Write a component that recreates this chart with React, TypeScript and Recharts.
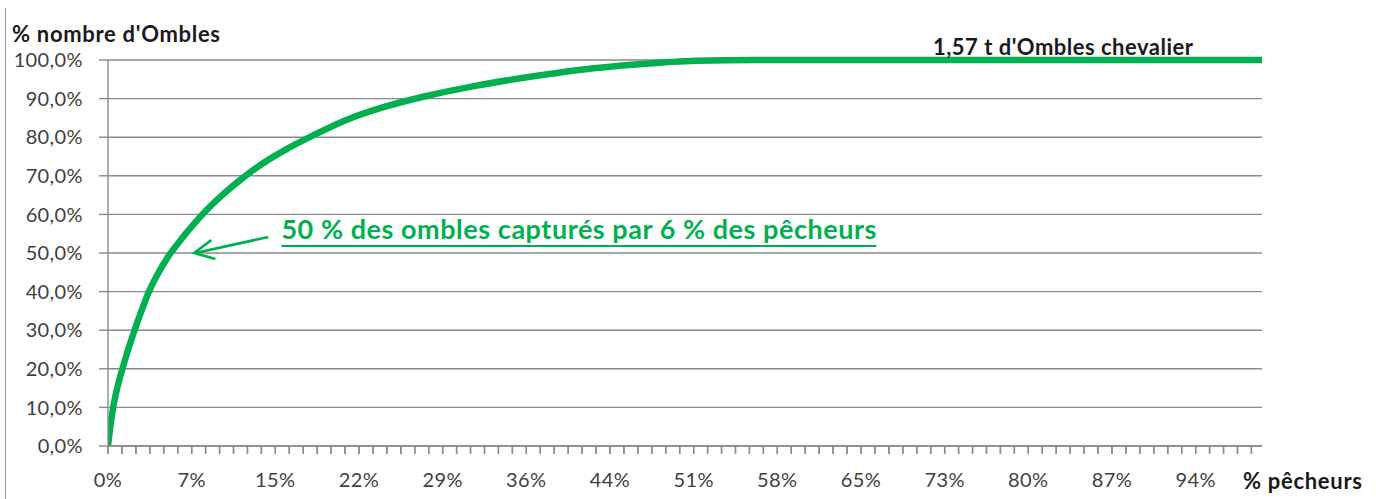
import React from "react";
import { CartesianGrid, Line, LineChart, ReferenceDot, XAxis, YAxis } from "recharts";

// % cumulé de pêcheurs (axe x) -> % cumulé du nombre d'ombles (axe y)
const PCT_PECHEURS = [
  0, 0.2, 0.45, 0.8, 1.25, 1.75, 2.3, 2.9, 3.55, 4.3, 5.2, 6.2, 7.3, 8.5, 9.9, 11.5,
  13.3, 15.4, 17.8, 20.6, 23.8, 27.5, 31.5, 36, 41, 46, 51, 56, 70, 85, 100,
];
const PCT_OMBLES = [
  0, 5, 10, 15, 20, 25, 30, 35, 40, 44.5, 49, 53, 57, 61, 65, 69,
  73, 76.8, 80.5, 84.4, 87.7, 90.6, 93.1, 95.4, 97.5, 98.9, 99.8, 100, 100, 100, 100,
];

const X_TICK_LABELS = ["0%", "7%", "15%", "22%", "29%", "36%", "44%", "51%", "58%", "65%", "73%", "80%", "87%", "94%"];
const X_LABEL_STEP = 7.25; // écart entre deux étiquettes
const X_MINOR_PER_LABEL = 6;
const Y_TICKS = [0, 10, 20, 30, 40, 50, 60, 70, 80, 90, 100];

const ANNOTATION = "50 % des ombles capturés par 6 % des pêcheurs";
const TOTAL_LABEL = "1,57 t d'Ombles chevalier";

const GREEN = "#00B050";
const GRID = "#8a8a8a";
const TEXT = "#3f3f3f";
const FONT = "Lato, 'Noto Sans', sans-serif";

const data = PCT_PECHEURS.map((x, i) => ({ x, y: PCT_OMBLES[i] }));

const xTicks: number[] = [];
for (let i = 0; i * (X_LABEL_STEP / X_MINOR_PER_LABEL) <= 100; i++) {
  xTicks.push((i * X_LABEL_STEP) / X_MINOR_PER_LABEL);
}

function XTick(props: any) {
  const { x, y, index } = props;
  const mark = <line x1={x} y1={y - 10} x2={x} y2={y - 2} stroke={GRID} strokeWidth={1.4} />;
  const label = index % X_MINOR_PER_LABEL === 0 ? X_TICK_LABELS[index / X_MINOR_PER_LABEL] : undefined;
  return (
    <g>
      {mark}
      {label && (
        <text x={x} y={y + 31} textAnchor="middle" fontSize={20} letterSpacing={0.4} fill={TEXT} fontFamily={FONT}>
          {label}
        </text>
      )}
    </g>
  );
}

function ArrowNote(props: any) {
  const { cx, cy } = props;
  if (cx == null || cy == null) return <g />;
  return (
    <g>
      <line x1={cx + 75} y1={cy - 16} x2={cx + 2} y2={cy} stroke={GREEN} strokeWidth={2.8} />
      <polyline
        points={`${cx + 18},${cy - 13} ${cx + 1},${cy} ${cx + 22},${cy + 6}`}
        fill="none"
        stroke={GREEN}
        strokeWidth={2.8}
      />
      <text
        x={cx + 88}
        y={cy - 14}
        fontSize={27}
        fontWeight={700}
        fill={GREEN}
        fontFamily={FONT}
        textLength={595}
        lengthAdjust="spacing"
      >
        {ANNOTATION}
      </text>
      <line x1={cx + 88} y1={cy - 7} x2={cx + 683} y2={cy - 7} stroke={GREEN} strokeWidth={2} />
    </g>
  );
}

function TotalNote(props: any) {
  const { cx, cy } = props;
  if (cx == null || cy == null) return <g />;
  return (
    <text
      x={cx - 130}
      y={cy - 5}
      fontSize={22}
      fontWeight={700}
      fill="#1a1a1a"
      fontFamily={FONT}
      textLength={260}
      lengthAdjust="spacing"
    >
      {TOTAL_LABEL}
    </text>
  );
}

export default function App() {
  return (
    <div style={{ position: "absolute", left: 0, top: 0, width: 1376, height: 499, background: "#fff", fontFamily: FONT }}>
      <div style={{ position: "absolute", left: 5, top: 8, width: 1, height: 491, background: "#9a9a9a" }} />
      <div
        style={{
          position: "absolute",
          left: 12,
          top: 21,
          fontSize: 22,
          lineHeight: "26px",
          letterSpacing: 0.7,
          fontWeight: 700,
          color: "#1a1a1a",
          whiteSpace: "nowrap",
        }}
      >
        % nombre d'Ombles
      </div>
      <div
        style={{
          position: "absolute",
          left: 1243,
          top: 468,
          fontSize: 22,
          lineHeight: "26px",
          letterSpacing: 0.7,
          fontWeight: 700,
          color: "#1a1a1a",
          whiteSpace: "nowrap",
        }}
      >
        % pêcheurs
      </div>
      <LineChart width={1376} height={499} data={data} margin={{ top: 60, right: 114, left: 8, bottom: 0 }}>
        <CartesianGrid horizontal vertical={false} stroke={GRID} strokeWidth={1.4} />
        <XAxis
          dataKey="x"
          type="number"
          domain={[0, 100]}
          ticks={xTicks}
          interval={0}
          height={53}
          tickSize={8}
          stroke={GRID}
          strokeWidth={1.4}
          tickLine={{ stroke: GRID, strokeWidth: 1.4 }}
          tick={<XTick />}
          allowDataOverflow
        />
        <YAxis
          type="number"
          domain={[0, 100]}
          ticks={Y_TICKS}
          interval={0}
          width={100}
          tickSize={9}
          tickMargin={16}
          stroke={GRID}
          strokeWidth={1.4}
          tick={{ fill: TEXT, fontSize: 20, fontFamily: FONT, letterSpacing: 0.4 }}
          tickFormatter={(v: number) => `${v},0%`}
        />
        <Line
          type="monotone"
          dataKey="y"
          stroke={GREEN}
          strokeWidth={6.5}
          dot={false}
          activeDot={false}
          isAnimationActive={false}
        />
        <ReferenceDot x={7.4} y={50} r={0} shape={<ArrowNote />} ifOverflow="visible" />
        <ReferenceDot x={82.75} y={100} r={0} shape={<TotalNote />} ifOverflow="visible" />
      </LineChart>
    </div>
  );
}
